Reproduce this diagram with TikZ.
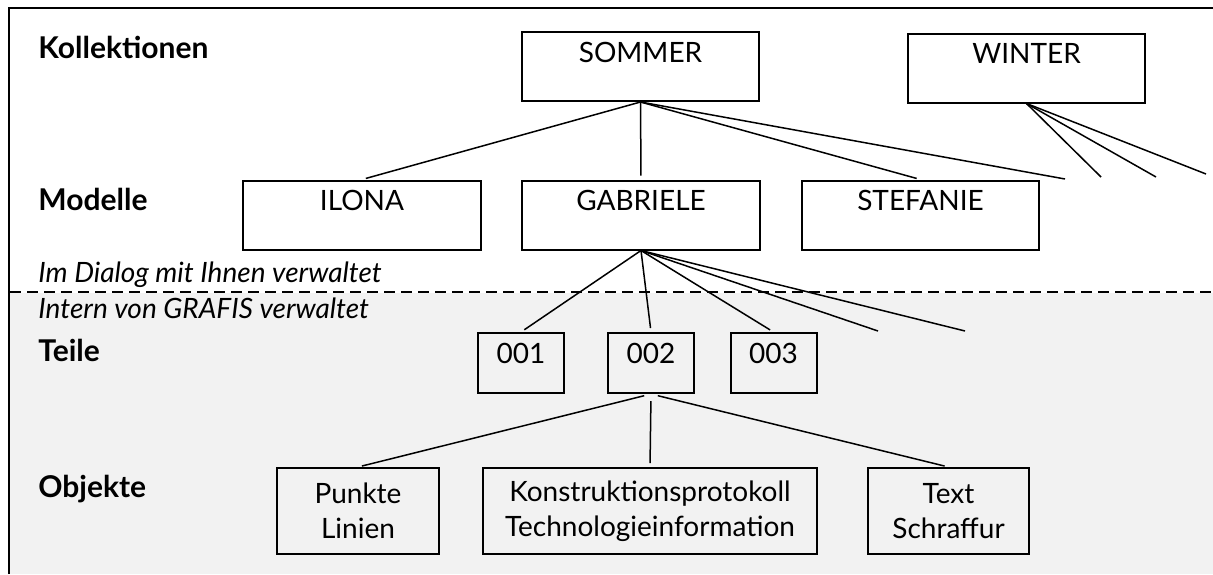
\documentclass[tikz,border=0pt]{standalone}
\usepackage{fontspec}
\setmainfont{Lato}
\usetikzlibrary{calc}
\definecolor{interngray}{HTML}{F2F2F2}

\begin{document}
\begin{tikzpicture}[x=0.5pt,y=-0.5pt,
  box/.style={draw,line width=1pt,inner sep=0pt,font=\fontsize{14}{17.5}\selectfont},
  bigbox/.style={box,minimum width=#1,text height=15pt,text depth=19.5pt},
  partbox/.style={box,minimum width=43pt,text height=15pt,text depth=15pt},
  objbox/.style={box,minimum width=#1,minimum height=43pt,align=center},
  level/.style={anchor=base west,inner sep=0pt,font=\bfseries\fontsize{15}{18}\selectfont},
  note/.style={anchor=base west,inner sep=0pt,font=\itshape\fontsize{14}{17}\selectfont},
  link/.style={line width=0.75pt,shorten >=2pt}]

% Canvas
\useasboundingbox (0,0) rectangle (1213,574);

% Internal area
\fill[interngray] (10,293) rectangle (1213,574);
\draw[line width=0.75pt,dash pattern=on 5.5pt off 3pt] (10,292) -- (1213,292);

% Frame
\draw[line width=1.4pt] (9,574) -- (9,8) -- (1213,8);

% Row labels
\node[level] at (38,58) {Kollektionen};
\node[level] at (38,210) {Modelle};
\node[note] at (38,282) {Im Dialog mit Ihnen verwaltet};
\node[note] at (38,318) {Intern von GRAFIS verwaltet};
\node[level] at (38,361) {Teile};
\node[level] at (38,497) {Objekte};

% Collections
\node[bigbox=118.5pt] (sommer) at (640.5,66.5) {SOMMER};
\node[bigbox=118.5pt] (winter) at (1026.5,68) {WINTER};

% Models
\node[bigbox=119pt] (ilona) at (362,215) {ILONA};
\node[bigbox=119pt] (gabriele) at (641,215) {GABRIELE};
\node[bigbox=118.5pt] (stefanie) at (920.5,215) {STEFANIE};

% Parts
\node[partbox] (t001) at (521,363) {001};
\node[partbox] (t002) at (651,363) {002};
\node[partbox] (t003) at (773.5,363) {003};

% Objects
\node[objbox=81pt] (punkte) at (358,511) {Punkte\\Linien};
\node[objbox=167pt] (konstr) at (650,511) {Konstruktionsprotokoll\\Technologieinformation};
\node[objbox=80.5pt] (text) at (948.5,511) {Text\\Schraffur};

% Open ends
\coordinate (s4) at (1065,179);
\coordinate (w1) at (1101,177);
\coordinate (w2) at (1156,177);
\coordinate (w3) at (1206,174);
\coordinate (g4) at (878,331);
\coordinate (g5) at (965,331);

% Connectors
\draw[link] (sommer.south) -- (ilona.north);
\draw[link] (sommer.south) -- (gabriele.north);
\draw[link] (sommer.south) -- (stefanie.north);
\draw[link,shorten >=0pt] (sommer.south) -- (s4);
\draw[link,shorten >=0pt] (winter.south) -- (w1);
\draw[link,shorten >=0pt] (winter.south) -- (w2);
\draw[link,shorten >=0pt] (winter.south) -- (w3);
\draw[link] (gabriele.south) -- (t001.north);
\draw[link] (gabriele.south) -- (t002.north);
\draw[link] (gabriele.south) -- (t003.north);
\draw[link,shorten >=0pt] (gabriele.south) -- (g4);
\draw[link,shorten >=0pt] (gabriele.south) -- (g5);
\draw[link,shorten <=3.5pt] (t002.south) -- (punkte.north);
\draw[link,shorten <=3.5pt] (t002.south) -- (konstr.north);
\draw[link,shorten <=3.5pt] (t002.south) -- (text.north);

\end{tikzpicture}
\end{document}
